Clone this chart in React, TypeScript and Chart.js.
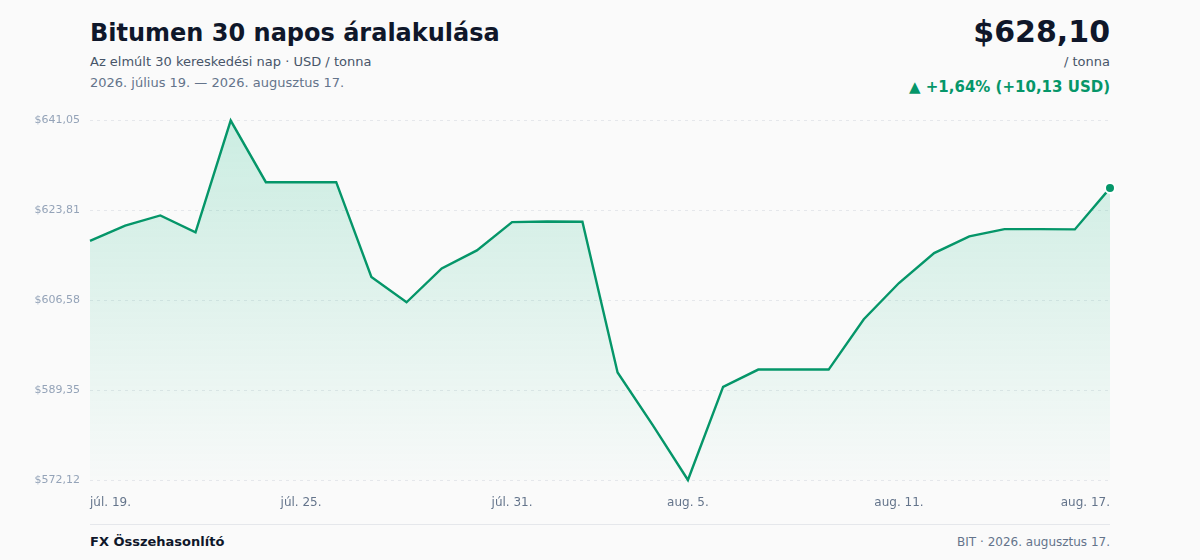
import React, { useEffect, useRef } from "react";
import { Chart, registerables } from "chart.js";

Chart.register(...registerables);

const categories: string[] = [
  "júl. 19.", "júl. 20.", "júl. 21.", "júl. 22.", "júl. 23.", "júl. 24.", "júl. 25.",
  "júl. 26.", "júl. 27.", "júl. 28.", "júl. 29.", "júl. 30.", "júl. 31.",
  "aug. 1.", "aug. 2.", "aug. 3.", "aug. 4.", "aug. 5.", "aug. 6.", "aug. 7.",
  "aug. 8.", "aug. 9.", "aug. 10.", "aug. 11.", "aug. 12.", "aug. 13.", "aug. 14.",
  "aug. 15.", "aug. 16.", "aug. 17.",
];

const prices: number[] = [
  617.97, 620.9, 622.86, 619.6, 641.05, 629.24, 629.24, 629.24, 611.05, 606.2,
  612.7, 616.16, 621.58, 621.71, 621.65, 592.74, 582.65, 572.12, 589.99, 593.3,
  593.3, 593.3, 602.95, 609.9, 615.64, 618.84, 620.24, 620.24, 620.18, 628.1,
];

const xTickLabels: string[] = ["júl. 19.", "júl. 25.", "júl. 31.", "aug. 5.", "aug. 11.", "aug. 17."];
const yTickValues: number[] = [572.12, 589.35, 606.58, 623.81, 641.05];

const FONT = "'DejaVu Sans', sans-serif";
const GREEN = "#059669";

const fmt = (v: number) => "$" + v.toFixed(2).replace(".", ",");

export default function App() {
  const ref = useRef<HTMLCanvasElement | null>(null);

  useEffect(() => {
    document.body.style.margin = "0";
    document.body.style.background = "#fafafa";
    if (!ref.current) return;
    const last = prices.length - 1;
    const chart = new Chart(ref.current, {
      type: "line",
      data: {
        labels: categories,
        datasets: [
          {
            data: prices,
            borderColor: GREEN,
            borderWidth: 2.4,
            tension: 0,
            fill: "start",
            clip: 10,
            backgroundColor: (ctx: any) => {
              const { chart } = ctx;
              const area = chart.chartArea;
              if (!area) return "rgba(5,150,105,0.12)";
              const g = chart.ctx.createLinearGradient(0, area.top, 0, area.bottom);
              g.addColorStop(0, "rgba(16,185,129,0.20)");
              g.addColorStop(1, "rgba(16,185,129,0.01)");
              return g;
            },
            pointRadius: prices.map((_, i) => (i === last ? 5 : 0)),
            pointHoverRadius: prices.map((_, i) => (i === last ? 5 : 0)),
            pointBackgroundColor: GREEN,
            pointBorderColor: "#ffffff",
            pointBorderWidth: 2,
          },
        ],
      },
      options: {
        animation: false,
        responsive: false,
        maintainAspectRatio: false,
        layout: { padding: { top: 4, right: 90, left: 0, bottom: 0 } },
        plugins: { legend: { display: false }, tooltip: { enabled: false } },
        scales: {
          x: {
            type: "category",
            offset: false,
            grid: { display: false },
            border: { display: false },
            afterFit: (s: any) => {
              s.height = 40;
            },
            ticks: {
              autoSkip: false,
              maxRotation: 0,
              align: "inner",
              padding: 8,
              color: "#64748b",
              font: { family: FONT, size: 12 },
              callback: (_v: any, i: number) =>
                xTickLabels.includes(categories[i]) ? categories[i] : "",
            },
          },
          y: {
            min: yTickValues[0],
            max: yTickValues[yTickValues.length - 1],
            afterFit: (s: any) => {
              s.width = 90;
            },
            afterBuildTicks: (s: any) => {
              s.ticks = yTickValues.map((v) => ({ value: v }));
            },
            grid: { color: "#e5e7eb", lineWidth: 1, drawTicks: false },
            border: { display: false, dash: [3, 4] },
            ticks: {
              padding: 10,
              color: "#94a3b8",
              font: { family: FONT, size: 11 },
              callback: (v: any) => fmt(Number(v)),
            },
          },
        },
      },
    } as any);
    return () => chart.destroy();
  }, []);

  const abs = (o: React.CSSProperties): React.CSSProperties => ({ position: "absolute", whiteSpace: "nowrap", ...o });

  return (
    <div style={{ position: "relative", width: 1200, height: 560, background: "#fafafa", fontFamily: FONT, overflow: "hidden" }}>
      <div style={abs({ left: 90, top: 18, fontSize: 24, lineHeight: "30px", fontWeight: 700, color: "#0f172a" })}>
        Bitumen 30 napos áralakulása
      </div>
      <div style={abs({ left: 90, top: 53, fontSize: 13, lineHeight: "18px", color: "#475569" })}>
        Az elmúlt 30 kereskedési nap · USD / tonna
      </div>
      <div style={abs({ left: 90, top: 74, fontSize: 13, lineHeight: "18px", color: "#64748b" })}>
        2026. július 19. — 2026. augusztus 17.
      </div>
      <div style={abs({ right: 90, top: 14, fontSize: 30, lineHeight: "36px", fontWeight: 700, color: "#0f172a", textAlign: "right" })}>
        {fmt(prices[prices.length - 1])}
      </div>
      <div style={abs({ right: 90, top: 53, fontSize: 13, lineHeight: "18px", color: "#475569", textAlign: "right" })}>
        / tonna
      </div>
      <div style={abs({ right: 90, top: 77, fontSize: 15, lineHeight: "20px", fontWeight: 700, color: GREEN, textAlign: "right" })}>
        ▲ +1,64% (+10,13 USD)
      </div>
      <canvas ref={ref} width={1200} height={416} style={{ position: "absolute", left: 0, top: 104, width: 1200, height: 416 }} />
      <div style={abs({ left: 90, top: 524, width: 1020, height: 1, background: "#e5e7eb" })} />
      <div style={abs({ left: 90, top: 533, fontSize: 13, lineHeight: "18px", fontWeight: 700, color: "#0f172a" })}>
        FX Összehasonlító
      </div>
      <div style={abs({ right: 90, top: 533, fontSize: 12, lineHeight: "18px", color: "#64748b", textAlign: "right" })}>
        BIT · 2026. augusztus 17.
      </div>
    </div>
  );
}
